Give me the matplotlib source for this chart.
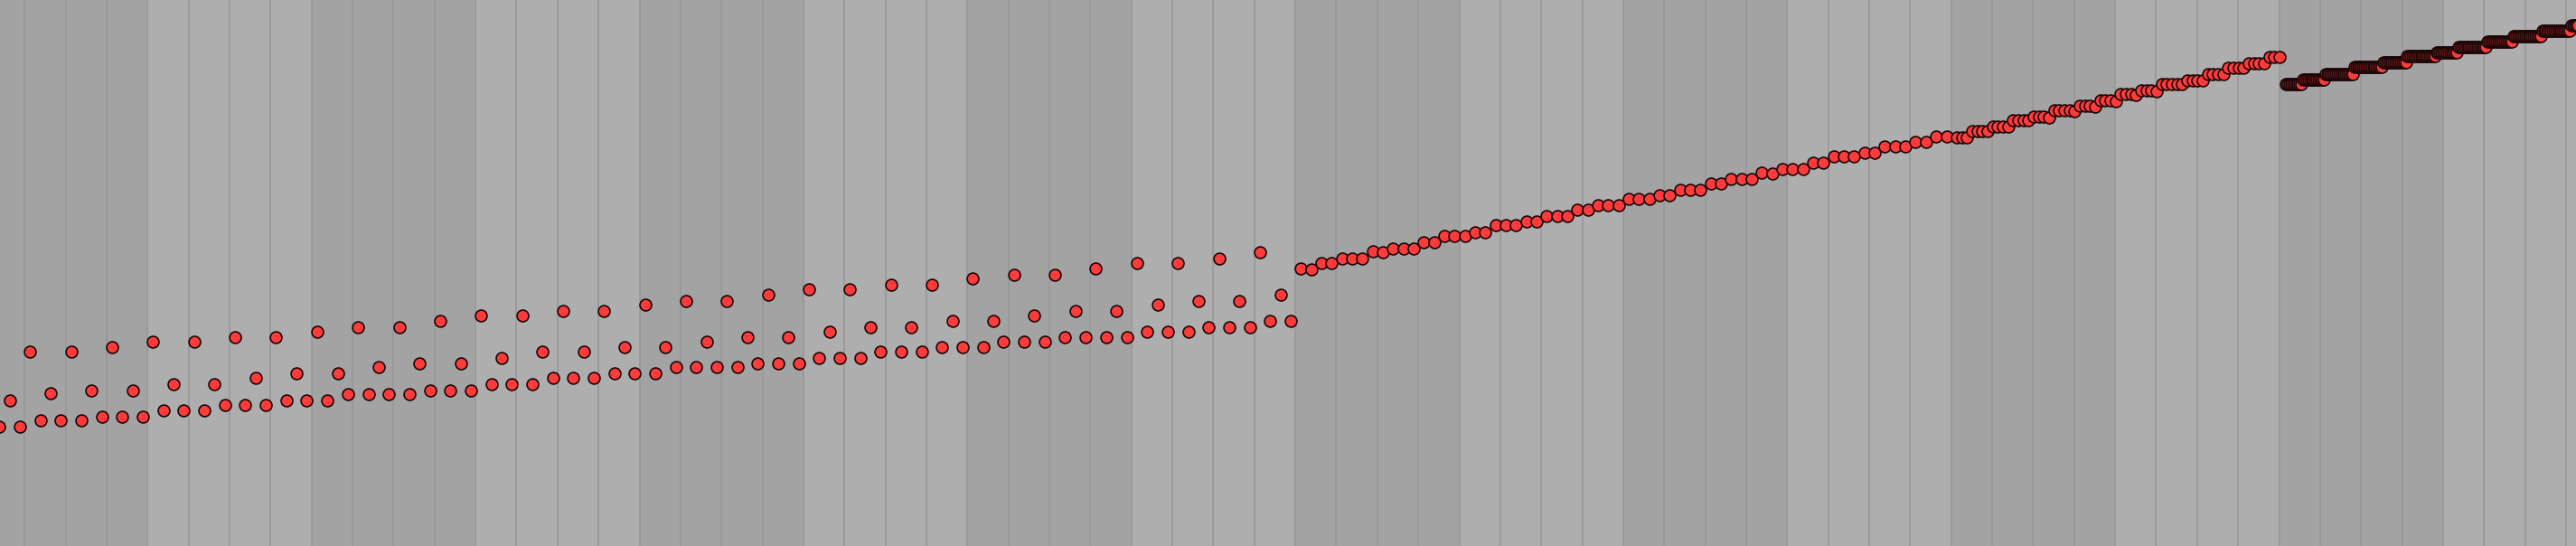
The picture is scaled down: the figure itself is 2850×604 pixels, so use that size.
"""Rising note sequence over a 4-beat bar grid."""
import numpy as np
import matplotlib
matplotlib.use("Agg")
import matplotlib.pyplot as plt

# --- data -------------------------------------------------------------------
# part 1: arpeggio pattern, then a plain ramp, one sample every quarter beat
QUARTER_START = 0.385
QUARTER_STEP = 0.25
arp_y = [
    21.9, 26.7, 21.9, 35.6, 23.0, 27.9, 23.0, 35.6,
    23.0, 28.5, 23.7, 36.4, 23.7, 28.5, 23.7, 37.5,
    24.8, 29.7, 24.8, 37.5, 24.8, 29.7, 25.9, 38.2,
    25.9, 30.8, 25.9, 38.2, 26.7, 31.6, 26.7, 39.3,
    26.7, 31.6, 27.8, 40.1, 27.8, 32.7, 27.8, 40.1,
    27.8, 33.4, 28.5, 41.2, 28.5, 33.4, 28.5, 42.3,
    29.7, 34.5, 29.7, 42.3, 29.7, 35.6, 30.8, 43.0,
    30.8, 35.6, 30.8, 43.0, 31.6, 36.4, 31.6, 44.2,
    31.6, 36.4, 32.7, 44.9, 32.7, 37.5, 32.7, 44.9,
    32.7, 38.2, 33.4, 46.0, 33.4, 38.2, 33.4, 47.1,
    34.5, 39.3, 34.5, 47.1, 34.5, 40.1, 35.6, 47.8,
    35.6, 40.1, 35.6, 47.8, 36.4, 41.2, 36.4, 49.0,
    36.4, 41.2, 37.5, 49.7, 37.5, 42.3, 37.5, 49.7,
    38.2, 43.0, 38.2, 50.8, 38.2, 43.0, 38.2, 51.9,
    39.3, 44.2, 39.3, 51.9, 39.3, 44.9, 40.1, 52.7,
    40.1, 44.9, 40.1, 53.8, 41.2, 46.0, 41.2,
]
ramp_quarter_y = [
    50.9, 50.7, 51.9, 51.9, 52.7, 52.7, 52.7, 53.9, 53.8, 54.5, 54.5, 54.5,
    55.7, 55.7, 56.8, 56.8, 56.8, 57.5, 57.5, 58.7, 58.7, 58.7, 59.4, 59.4,
    60.5, 60.5, 60.5, 61.6, 61.6, 62.4, 62.4, 62.4, 63.5, 63.5, 63.5, 64.2,
    64.2, 65.3, 65.3, 65.3, 66.4, 66.4, 67.2, 67.2, 67.2, 68.4, 68.2, 69.0,
    69.0, 69.0, 70.2, 70.2, 71.3, 71.3, 71.3, 72.1, 72.1, 73.2, 73.2, 73.1,
    74.0, 74.0, 75.0, 75.0,
]

# part 2: ramp sampled every eighth beat
EIGHTH_START = 48.135
EIGHTH_STEP = 0.125
ramp_eighth_y = [
    74.9, 74.9, 74.9, 76.0, 76.0, 76.0, 76.0, 76.8, 76.8, 76.8, 76.8,
    77.9, 77.9, 77.9, 77.9, 78.7, 78.7, 78.7, 78.5, 79.8, 79.8, 79.8, 79.8,
    79.6, 80.6, 80.6, 80.6, 80.4, 81.6, 81.6, 81.6, 81.5, 82.7, 82.7, 82.7,
    82.6, 83.4, 83.4, 83.4, 83.3, 84.6, 84.6, 84.6, 84.6, 84.6, 85.3, 85.3,
    85.3, 85.2, 86.5, 86.5, 86.5, 86.5, 87.6, 87.6, 87.6, 87.6, 88.4, 88.4,
    88.4, 88.4, 89.5, 89.5, 89.5,
]

# part 3: dense tail after the drop, stored as level + number of samples
DENSE_START = 56.17
DENSE_STEP = 1 / 24
dense_levels = [84.6, 85.5, 86.5, 87.7, 88.6, 89.7, 90.4, 91.4, 92.4, 93.3, 94.4, 95.3]
dense_counts = [10, 13, 17, 17, 14, 17, 13, 17, 15, 17, 17, 5]

X_VIEW = (0.399, 63.243)
BEATS_PER_BAR = 4
BAND_DARK = "#a3a3a3"
BAND_LIGHT = "#aeaeae"
BEAT_LINE = "#999999"
DOT_FACE = "#ff3b3b"
DOT_EDGE = "#1a0606"


def main() -> None:
    y1 = np.array(arp_y + ramp_quarter_y)
    x1 = QUARTER_START + QUARTER_STEP * np.arange(len(y1))
    y2 = np.array(ramp_eighth_y)
    x2 = EIGHTH_START + EIGHTH_STEP * np.arange(len(y2))
    y3 = np.repeat(dense_levels, dense_counts)
    x3 = DENSE_START + DENSE_STEP * np.arange(len(y3))

    xs = np.concatenate([x1, x2, x3])
    ys = np.concatenate([y1, y2, y3])

    fig = plt.figure(figsize=(28.5, 6.04), dpi=100)
    ax = fig.add_axes([0, 0, 1, 1])

    # bar bands, alternating shade every 4 beats
    last_beat = int(np.ceil(X_VIEW[1])) + 1
    for k, start in enumerate(range(0, last_beat, BEATS_PER_BAR)):
        ax.axvspan(start, start + BEATS_PER_BAR, color=BAND_DARK if k % 2 == 0 else BAND_LIGHT,
                   lw=0, zorder=0)
    for beat in range(0, last_beat):
        ax.axvline(beat, color=BEAT_LINE, lw=1.3, zorder=1)

    ax.scatter(xs, ys, s=86, c=DOT_FACE, edgecolors=DOT_EDGE, linewidths=1.2, zorder=3)

    ax.set_xlim(*X_VIEW)
    ax.set_ylim(0, 100)
    ax.axis("off")

    fig.savefig("out.png", dpi=100)


if __name__ == "__main__":
    main()
